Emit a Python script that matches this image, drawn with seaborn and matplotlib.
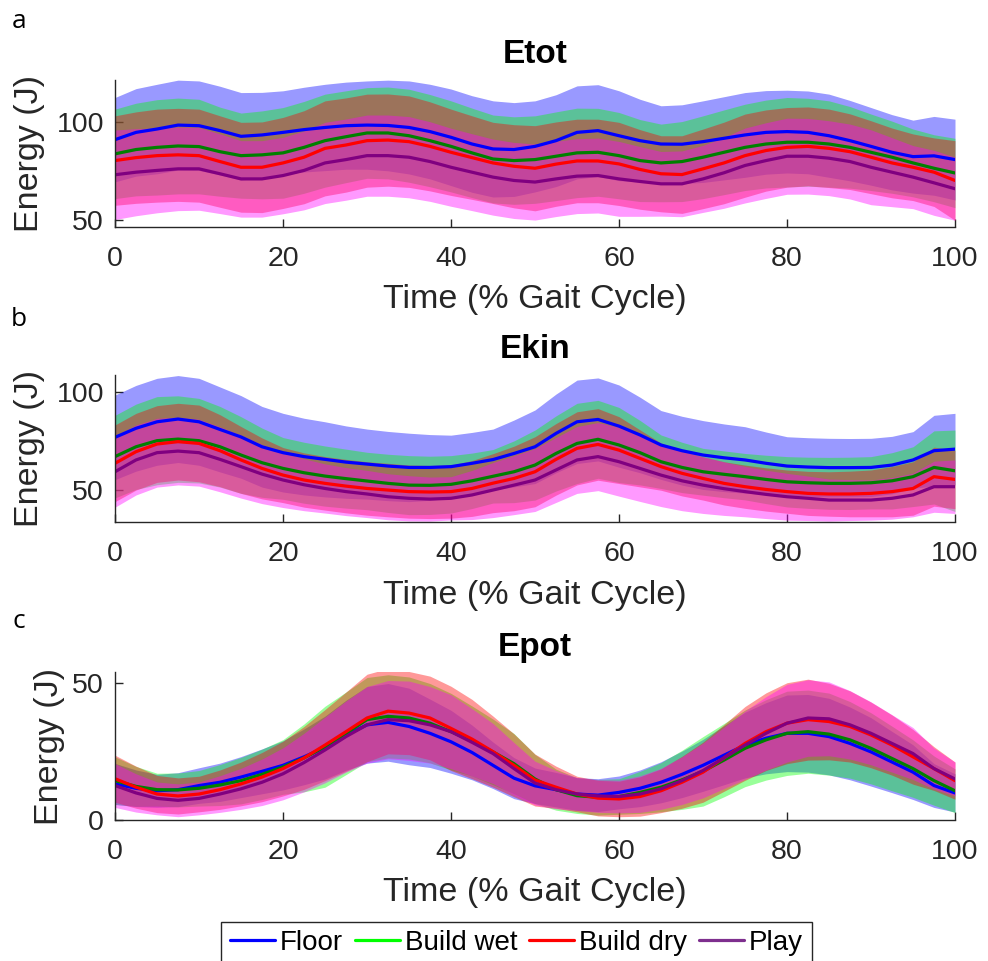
import numpy as np
import pandas as pd
import matplotlib
matplotlib.use("Agg")
import matplotlib.pyplot as plt
import seaborn as sns
from matplotlib.lines import Line2D

sns.set_theme(style="ticks")
plt.rcParams["font.family"] = ["Liberation Sans", "DejaVu Sans"]

# Gait-cycle sample points (% of cycle)
time = [0, 2.5, 5, 7.5, 10, 12.5, 15, 17.5, 20, 22.5, 25, 27.5, 30, 32.5, 35, 37.5, 40,
        42.5, 45, 47.5, 50, 52.5, 55, 57.5, 60, 62.5, 65, 67.5, 70, 72.5, 75, 77.5, 80,
        82.5, 85, 87.5, 90, 92.5, 95, 97.5, 100]

conditions = ["Floor", "Build wet", "Build dry", "Play"]

# ---- Total energy (J): mean and SD per condition ----
etot_floor = [90.9, 94.6, 96.3, 98.3, 98.0, 95.5, 92.6, 93.3, 94.6, 96.0, 97.1, 98.0, 98.3, 98.1, 97.1, 95.0, 92.1,
              88.7, 86.2, 85.9, 87.5, 90.4, 94.6, 95.5, 92.9, 90.4, 88.7, 88.6, 89.9, 91.6, 93.3, 94.6, 95.0,
              94.6, 92.9, 90.4, 87.5, 84.5, 82.3, 82.7, 80.8]
etot_floor_sd = [21.4, 22.2, 22.7, 22.8, 22.7, 22.5, 22.2, 21.6, 21.1, 21.5, 21.9, 22.1, 22.4, 23.0, 23.6, 24.0, 24.5,
                 24.5, 24.4, 23.8, 23.1, 23.3, 23.6, 23.3, 22.8, 21.0, 19.4, 20.0, 20.7, 21.1, 21.5, 21.2, 21.0,
                 21.0, 21.1, 20.4, 19.7, 19.1, 18.5, 20.0, 20.5]
etot_wet = [83.7, 85.9, 87.0, 87.7, 87.4, 84.8, 82.8, 83.2, 84.2, 87.0, 90.4, 92.4, 94.3, 94.3, 92.9, 90.4, 87.5,
            84.2, 81.1, 80.3, 80.8, 82.5, 84.2, 84.5, 82.8, 80.3, 79.1, 79.8, 82.0, 84.5, 87.0, 88.7, 89.6,
            89.6, 88.7, 87.0, 84.5, 82.0, 79.1, 76.4, 74.0]
etot_wet_sd = [22.7, 23.5, 24.2, 24.3, 24.0, 22.6, 21.6, 22.3, 23.0, 23.3, 23.6, 23.3, 23.0, 23.3, 23.6, 23.4, 23.1,
               22.7, 22.3, 22.2, 22.2, 22.5, 22.7, 22.3, 21.9, 20.8, 19.7, 20.3, 21.0, 21.5, 21.9, 22.3, 22.7,
               22.3, 21.9, 20.7, 19.4, 18.3, 17.2, 17.0, 17.6]
etot_dry = [80.3, 81.8, 82.8, 83.2, 82.8, 79.8, 76.9, 76.9, 79.1, 82.0, 86.5, 88.2, 90.4, 90.7, 89.9, 87.5, 84.5,
            81.8, 79.1, 77.4, 76.4, 78.5, 80.1, 80.1, 78.6, 75.8, 73.6, 73.2, 76.1, 79.1, 82.8, 85.4, 87.0,
            87.5, 86.5, 84.8, 82.0, 79.1, 76.9, 74.4, 70.2]
etot_dry_sd = [22.7, 23.2, 23.6, 23.6, 23.6, 23.2, 22.8, 23.0, 23.1, 23.6, 24.1, 23.9, 23.6, 23.4, 23.2, 22.6, 21.9,
               21.2, 20.6, 21.1, 21.6, 21.4, 21.2, 21.2, 21.1, 20.2, 19.3, 19.7, 20.2, 20.7, 21.1, 20.6, 20.2,
               20.0, 19.9, 19.2, 18.5, 17.7, 16.9, 17.4, 20.2]
etot_play = [73.1, 74.4, 75.3, 76.1, 76.1, 73.6, 71.0, 71.0, 72.7, 75.3, 79.1, 80.8, 82.8, 82.8, 82.0, 79.8, 76.9,
             74.4, 71.9, 70.2, 69.4, 71.0, 72.4, 72.7, 71.0, 69.7, 68.5, 68.5, 71.0, 74.1, 77.8, 80.3, 82.5,
             82.5, 81.5, 79.8, 76.9, 74.4, 71.9, 69.0, 66.0]
etot_play_sd = [22.7, 22.1, 21.5, 21.2, 21.0, 20.2, 19.4, 19.4, 19.4, 20.0, 20.6, 20.6, 20.6, 20.6, 20.6, 20.2, 19.8,
                19.5, 19.3, 19.3, 19.3, 19.1, 19.0, 19.0, 19.0, 17.7, 16.4, 16.7, 17.0, 18.0, 19.0, 19.2, 19.3,
                19.2, 19.0, 19.0, 19.0, 17.5, 16.0, 16.5, 16.0]

# ---- Kinetic energy (J) ----
ekin_floor = [76.8, 81.4, 84.7, 86.1, 84.7, 80.8, 77.0, 72.0, 69.0, 67.0, 65.6, 64.2, 63.2, 62.2, 61.5, 61.5, 61.9,
              63.6, 65.5, 68.6, 72.0, 78.8, 84.7, 85.9, 82.5, 78.0, 72.9, 70.0, 67.8, 66.4, 65.3, 63.6, 62.2,
              61.7, 61.4, 61.4, 61.5, 62.7, 65.3, 70.0, 70.8]
ekin_floor_sd = [21.5, 21.8, 22.1, 22.1, 22.1, 21.6, 21.0, 20.5, 20.0, 19.5, 19.1, 18.4, 17.8, 17.6, 17.4, 16.7, 16.0,
                 15.7, 15.5, 17.0, 18.7, 20.0, 21.2, 21.1, 20.9, 19.2, 17.5, 17.5, 17.5, 17.2, 16.9, 15.9, 14.9,
                 14.9, 14.9, 14.8, 14.8, 14.6, 14.4, 18.0, 18.2]
ekin_wet = [67.0, 72.0, 75.1, 75.9, 75.1, 72.0, 67.8, 63.9, 61.0, 58.8, 57.1, 55.8, 54.6, 53.4, 52.5, 52.4, 52.9,
            54.7, 57.0, 59.3, 62.7, 68.6, 73.7, 75.8, 72.9, 69.0, 64.4, 61.5, 59.3, 58.0, 56.8, 55.4, 54.2,
            53.7, 53.4, 53.4, 53.7, 54.7, 56.8, 61.5, 59.8]
ekin_wet_sd = [21.0, 21.7, 22.4, 22.0, 21.5, 20.5, 19.5, 17.6, 15.7, 15.5, 15.3, 15.0, 14.6, 14.8, 15.0, 14.8, 14.6,
               14.1, 13.6, 15.7, 17.8, 19.1, 20.4, 19.8, 19.1, 16.4, 13.6, 12.8, 11.9, 11.9, 11.8, 12.3, 12.8,
               13.0, 13.2, 13.3, 13.3, 14.3, 15.2, 18.6, 20.7]
ekin_dry = [63.6, 69.5, 73.4, 74.6, 73.7, 70.0, 65.3, 61.0, 57.6, 55.1, 53.4, 52.0, 50.8, 50.0, 49.2, 49.0, 49.2,
            50.8, 53.5, 55.9, 59.3, 65.6, 71.2, 73.2, 70.3, 66.1, 61.9, 58.5, 55.9, 53.4, 51.7, 50.3, 49.2,
            48.3, 48.0, 48.0, 48.3, 49.2, 50.8, 56.8, 55.4]
ekin_dry_sd = [19.5, 19.5, 19.5, 19.5, 19.5, 18.3, 17.0, 15.5, 14.0, 13.8, 13.6, 13.6, 13.6, 13.6, 13.5, 13.5, 13.5,
               14.2, 15.0, 16.4, 17.8, 18.2, 18.6, 18.2, 17.0, 14.5, 12.0, 11.5, 11.0, 11.0, 11.0, 11.0, 11.0,
               11.2, 11.3, 11.6, 11.9, 12.8, 13.6, 15.0, 14.9]
ekin_play = [59.3, 65.3, 69.0, 69.8, 69.0, 65.6, 61.9, 58.1, 55.1, 52.7, 50.8, 49.2, 48.0, 46.6, 45.8, 45.4, 45.8,
             47.5, 50.0, 52.5, 55.1, 60.2, 65.3, 67.0, 64.4, 61.0, 57.6, 54.7, 52.5, 50.7, 49.2, 47.8, 46.6,
             45.8, 44.9, 44.9, 44.9, 45.8, 47.5, 51.7, 51.7]
ekin_play_sd = [18.0, 17.8, 17.5, 17.2, 17.0, 16.5, 16.0, 15.0, 14.0, 13.2, 12.5, 12.2, 12.0, 11.7, 11.5, 11.2, 11.0,
                12.5, 14.0, 15.0, 16.0, 16.5, 17.0, 17.3, 17.5, 16.8, 16.0, 15.2, 14.4, 13.6, 12.8, 12.3, 11.9,
                11.3, 10.7, 10.4, 10.2, 10.6, 11.1, 13.0, 13.6]

# ---- Potential energy (J) ----
epot_floor = [13.2, 11.6, 10.7, 11.1, 12.6, 13.8, 15.7, 17.8, 20.0, 23.1, 26.5, 31.0, 34.8, 35.7, 34.2, 31.7, 28.6,
              24.7, 20.0, 15.3, 12.5, 11.1, 9.5, 9.1, 10.1, 11.6, 13.8, 16.7, 20.0, 23.7, 27.4, 29.9, 31.7,
              31.7, 30.5, 28.0, 24.9, 21.2, 17.5, 12.6, 9.9]
epot_floor_sd = [7.5, 6.7, 6.0, 6.2, 6.5, 7.0, 7.5, 8.2, 9.0, 10.2, 11.5, 12.8, 14.0, 14.2, 14.0, 12.5, 11.5,
                 10.0, 8.5, 7.5, 6.5, 6.3, 6.0, 6.0, 6.0, 6.7, 7.5, 8.5, 9.5, 10.8, 12.0, 13.0, 14.0,
                 14.2, 14.0, 13.3, 12.5, 11.2, 10.0, 8.0, 7.0]
epot_wet = [14.4, 12.3, 11.1, 11.0, 11.6, 12.8, 14.4, 16.7, 19.4, 22.7, 26.8, 31.7, 36.7, 37.9, 37.3, 35.4, 32.3,
            28.9, 24.9, 20.6, 15.0, 11.1, 8.9, 8.3, 8.6, 10.1, 12.0, 14.7, 17.8, 21.9, 26.2, 29.3, 31.7,
            32.3, 31.4, 29.3, 26.2, 22.5, 18.8, 14.4, 10.7]
epot_wet_sd = [8.7, 7.3, 6.0, 6.2, 6.5, 7.5, 8.5, 9.2, 10.0, 12.4, 14.8, 15.1, 15.4, 15.2, 15.0, 14.5, 14.0,
               12.8, 12.0, 11.0, 9.0, 7.5, 6.5, 6.5, 6.5, 7.7, 9.0, 10.8, 12.7, 13.4, 14.0, 14.7, 15.4,
               15.2, 15.0, 14.0, 13.0, 11.8, 10.5, 9.0, 8.0]
epot_dry = [15.1, 12.0, 9.5, 8.8, 9.5, 11.1, 13.2, 15.7, 18.8, 22.7, 27.4, 32.3, 37.3, 39.8, 39.1, 37.3, 33.5,
            29.6, 25.0, 20.0, 14.6, 12.0, 9.5, 8.0, 7.7, 8.6, 10.7, 13.8, 17.5, 22.7, 28.0, 32.3, 35.4,
            36.7, 36.0, 34.2, 31.1, 27.4, 23.1, 18.8, 14.4]
epot_dry_sd = [8.6, 7.7, 6.8, 6.6, 6.5, 7.2, 8.0, 9.0, 10.0, 11.5, 13.0, 14.5, 16.0, 15.6, 15.2, 15.3, 15.4,
               14.5, 13.0, 11.5, 9.5, 7.7, 6.5, 6.5, 6.5, 7.2, 8.0, 9.5, 11.0, 12.2, 13.5, 14.2, 14.8,
               14.8, 14.0, 13.0, 12.0, 11.0, 10.0, 8.0, 6.8]
epot_play = [12.6, 9.9, 7.9, 7.2, 7.9, 9.5, 11.4, 13.8, 16.9, 21.0, 25.6, 30.5, 34.8, 36.7, 36.3, 34.8, 32.3,
             28.4, 24.3, 18.8, 13.5, 11.1, 9.5, 8.8, 8.6, 9.5, 11.4, 14.4, 18.1, 22.7, 27.4, 31.7, 35.4,
             37.3, 37.0, 34.8, 31.7, 28.0, 24.3, 18.8, 15.0]
epot_play_sd = [8.0, 7.0, 6.0, 6.0, 6.0, 6.7, 7.5, 8.5, 9.5, 10.7, 12.0, 13.0, 14.0, 14.3, 14.5, 14.0, 13.5,
                12.3, 11.0, 9.5, 8.0, 7.0, 6.0, 6.0, 6.0, 6.7, 7.5, 8.7, 10.0, 11.2, 12.5, 13.4, 14.2,
                14.0, 13.5, 12.5, 11.5, 10.5, 9.5, 7.5, 6.2]

# Colours
band_colors = {"Floor": (0, 0, 1), "Build wet": (0, 1, 0), "Build dry": (1, 0, 0), "Play": (1, 0, 1)}
line_colors = {"Floor": (0, 0, 1), "Build wet": (0, 0.5, 0), "Build dry": (1, 0, 0), "Play": (0.5, 0, 0.5)}
legend_colors = {"Floor": (0, 0, 1), "Build wet": (0, 1, 0), "Build dry": (1, 0, 0), "Play": (0.494, 0.184, 0.556)}
AX_COLOR = "#262626"

panels = [
    dict(letter="a", title="Etot", ylim=(46.6, 121.2), yticks=[50, 100], labelpad=8.5,
         means=[etot_floor, etot_wet, etot_dry, etot_play],
         sds=[etot_floor_sd, etot_wet_sd, etot_dry_sd, etot_play_sd],
         pos=(0.1164, 0.7638, 0.8502, 0.1530), letter_y=21),
    dict(letter="b", title="Ekin", ylim=(33.6, 108.5), yticks=[50, 100], labelpad=8.5,
         means=[ekin_floor, ekin_wet, ekin_dry, ekin_play],
         sds=[ekin_floor_sd, ekin_wet_sd, ekin_dry_sd, ekin_play_sd],
         pos=(0.1164, 0.4565, 0.8502, 0.1533), letter_y=319),
    dict(letter="c", title="Epot", ylim=(0, 54), yticks=[0, 50], labelpad=5,
         means=[epot_floor, epot_wet, epot_dry, epot_play],
         sds=[epot_floor_sd, epot_wet_sd, epot_dry_sd, epot_play_sd],
         pos=(0.1164, 0.1467, 0.8502, 0.1537), letter_y=621),
]

W, H = 988, 961
fig = plt.figure(figsize=(W / 100, H / 100), dpi=100)

for p in panels:
    ax = fig.add_axes(p["pos"])
    t = np.array(time, dtype=float)
    # shaded mean +/- SD bands
    for cond, m, s in zip(conditions, p["means"], p["sds"]):
        m = np.array(m)
        s = np.array(s)
        ax.fill_between(t, m - s, m + s, color=band_colors[cond], alpha=0.4, linewidth=0)
    # mean curves
    df = pd.concat([
        pd.DataFrame({"time": time, "energy": m, "condition": cond})
        for cond, m in zip(conditions, p["means"])
    ], ignore_index=True)
    sns.lineplot(data=df, x="time", y="energy", hue="condition", hue_order=conditions,
                 palette=line_colors, linewidth=2.3, legend=False, errorbar=None, ax=ax)

    ax.set_xlim(0, 100)
    ax.set_ylim(*p["ylim"])
    ax.set_xticks([0, 20, 40, 60, 80, 100])
    ax.set_yticks(p["yticks"])
    sns.despine(ax=ax)
    for side in ("left", "bottom"):
        ax.spines[side].set_color(AX_COLOR)
        ax.spines[side].set_linewidth(1.0)
    ax.tick_params(axis="both", direction="in", length=6, width=1.0, color=AX_COLOR,
                   labelcolor=AX_COLOR, labelsize=20.5)
    ax.tick_params(axis="x", pad=13.5)
    ax.tick_params(axis="y", pad=8)
    ax.set_xlabel("Time (% Gait Cycle)", fontsize=24.5, color=AX_COLOR, labelpad=9)
    ax.set_ylabel("Energy (J)", fontsize=24.5, color=AX_COLOR, labelpad=p["labelpad"])
    ax.set_title(p["title"], fontsize=24, fontweight="bold", color="black", pad=12)
    fig.text(19 / W, 1 - p["letter_y"] / H, p["letter"], fontsize=19,
             family=["Open Sans", "DejaVu Sans"], ha="center", va="center", color="black")

handles = [Line2D([0], [0], color=legend_colors[c], lw=2.3) for c in conditions]
leg = fig.legend(handles, conditions, loc="upper center",
                 bbox_to_anchor=((220 + 813) / 2 / W, 1 - 921.5 / H), ncol=4,
                 fontsize=20, handlelength=1.62, handletextpad=0.18, columnspacing=0.43,
                 borderpad=0.3, borderaxespad=0, frameon=True, fancybox=False, framealpha=1,
                 edgecolor=AX_COLOR)
leg.get_frame().set_linewidth(1.0)
for txt in leg.get_texts():
    txt.set_color("black")

fig.savefig("out.png", dpi=100)
